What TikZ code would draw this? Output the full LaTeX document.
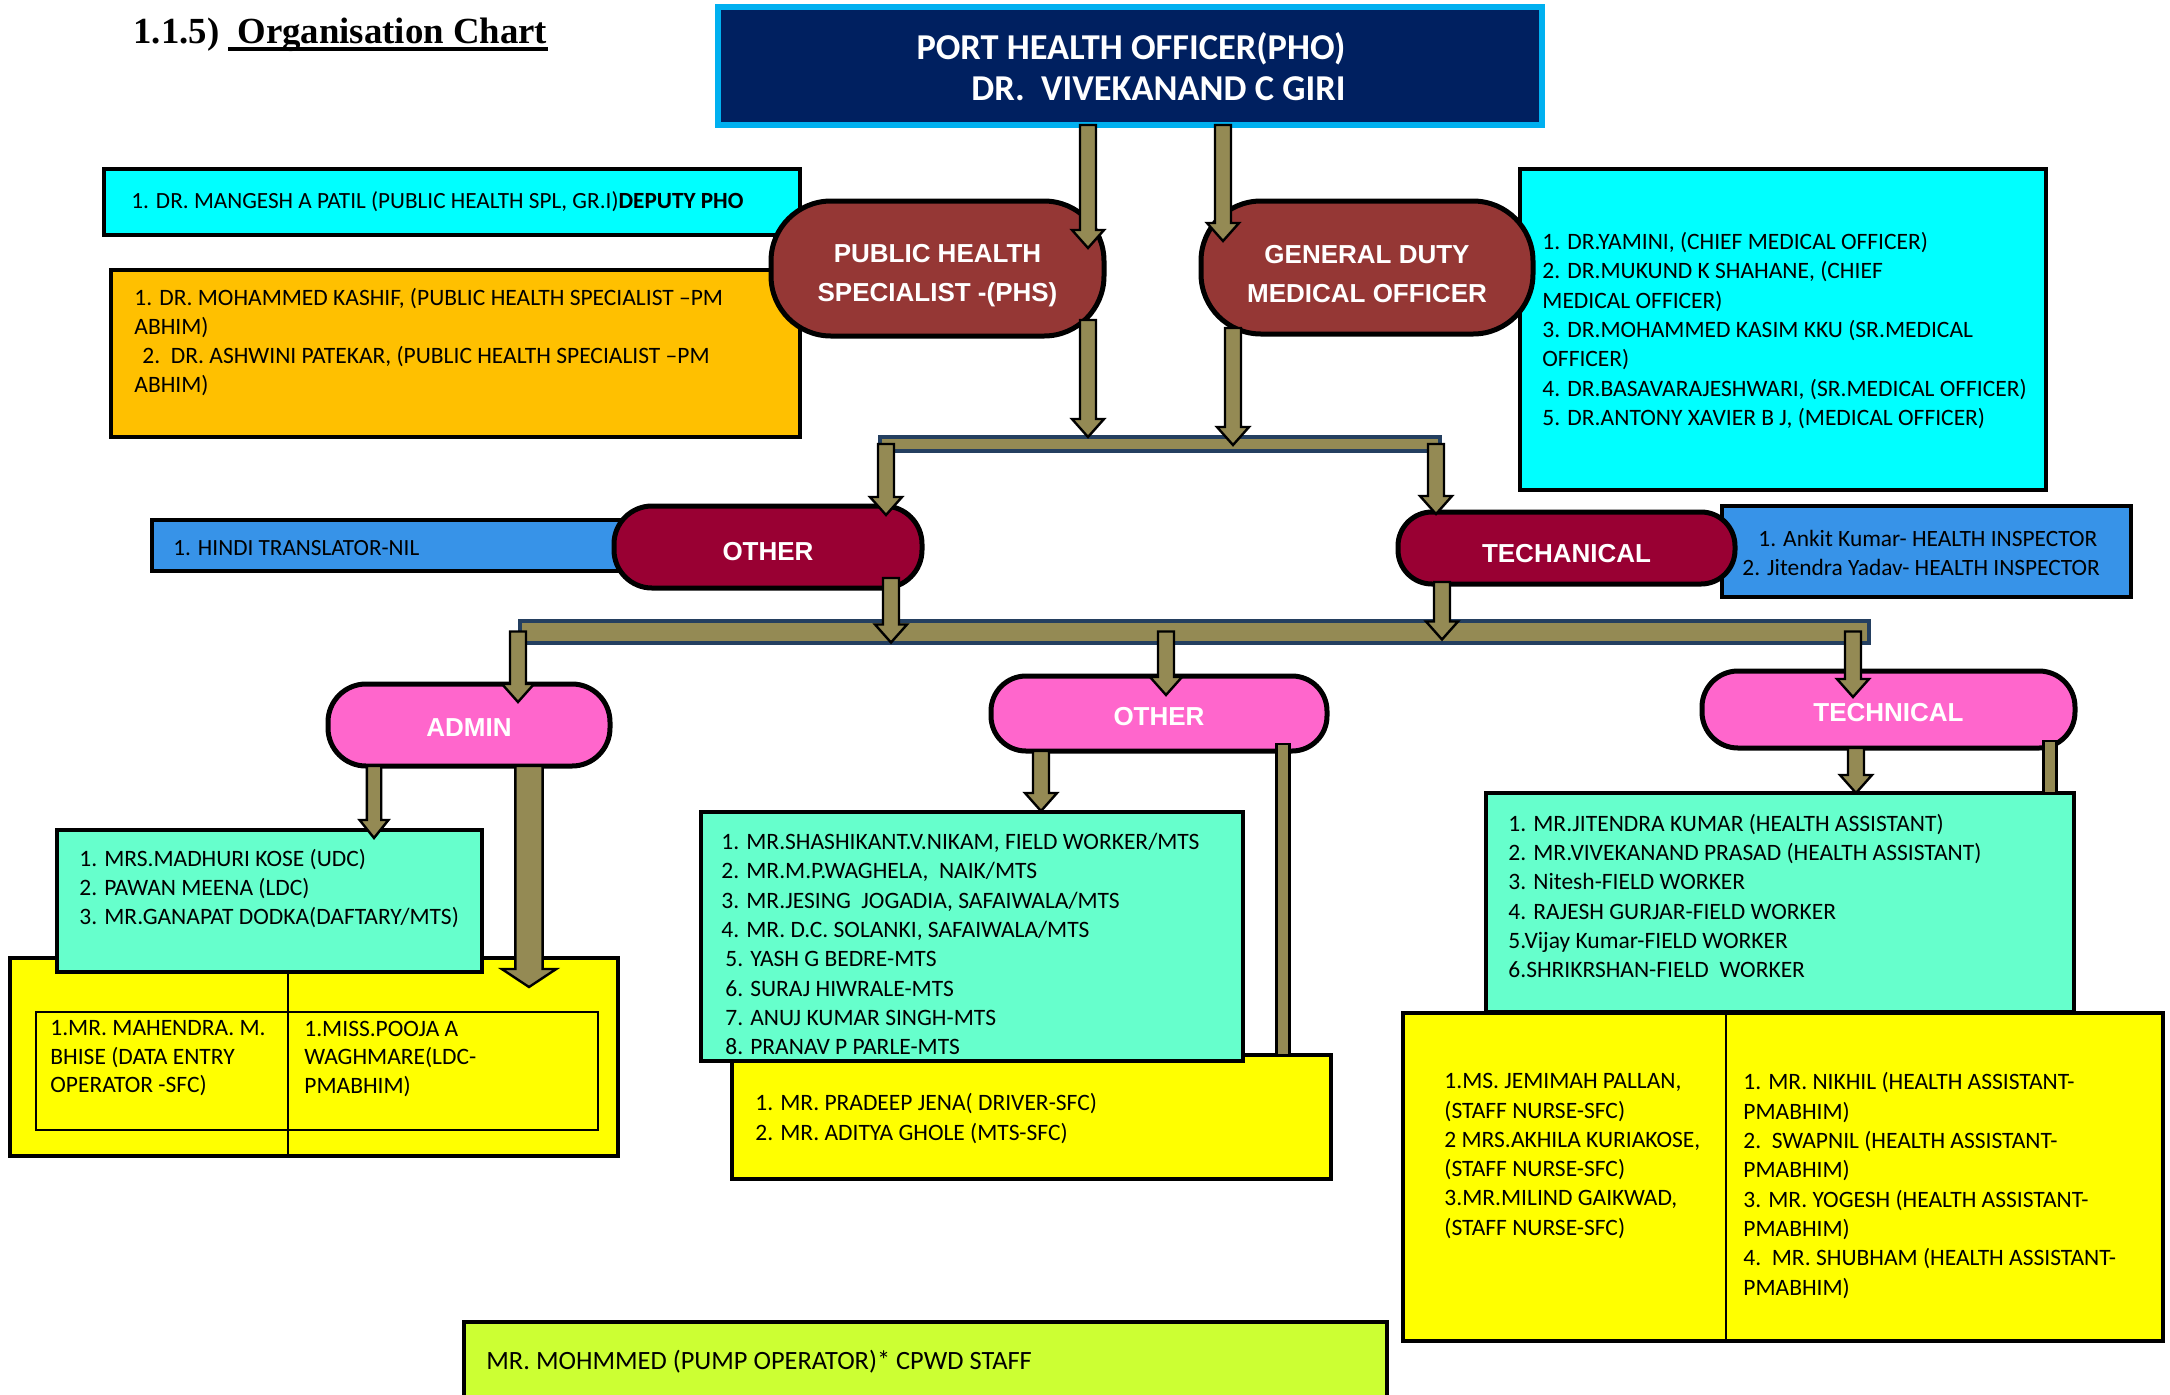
\documentclass[tikz,border=0pt]{standalone}
\usepackage{fontspec}
\setmainfont{Carlito}
\newfontfamily\hdfont{Liberation Sans}
\newfontfamily\ttlfont{Liberation Serif}
\usetikzlibrary{calc,fit}

\definecolor{phonavy}{HTML}{002060}
\definecolor{phoedge}{HTML}{00B0F0}
\definecolor{boxcyan}{HTML}{00FFFF}
\definecolor{boxorange}{HTML}{FFC000}
\definecolor{boxblue}{HTML}{3793E8}
\definecolor{boxteal}{HTML}{66FFCC}
\definecolor{boxyellow}{HTML}{FFFF00}
\definecolor{boxlime}{HTML}{CCFF33}
\definecolor{phsred}{HTML}{953735}
\definecolor{othred}{HTML}{990033}
\definecolor{grppink}{HTML}{FF66CC}
\definecolor{arrolive}{HTML}{948A54}
\definecolor{busnavy}{HTML}{243F60}

\newcommand{\bodyfont}{\fontsize{11.75}{14.65}\selectfont}
% block arrow straight down: [width factor]{start}{tip}
\newcommand{\blkarrow}[3][1]{%
  \draw[blkarrow] let \p1=#2, \p2=#3 in
    (\x1-4pt*#1,\y1) -- (\x1+4pt*#1,\y1) -- (\x1+4pt*#1,\y2-9pt) -- (\x1+8pt*#1,\y2-9pt)
    -- (\x1,\y2) -- (\x1-8pt*#1,\y2-9pt) -- (\x1-4pt*#1,\y2-9pt) -- cycle;}
% plain stub, no head
\newcommand{\blkstub}[2]{%
  \draw[blkarrow] let \p1=#1, \p2=#2 in (\x1-3.3pt,\y1) rectangle (\x1+3.3pt,\y2);}

\begin{document}
\begin{tikzpicture}[x=0.5pt,y=0.5pt,yscale=-1,
  chartbox/.style={draw=black, line width=2.2pt, inner sep=0pt, outer sep=0pt},
  hdr/.style={draw=black, line width=2.5pt, rounded corners=#1, inner sep=0pt, outer sep=0pt,
    text=white, align=center, font=\hdfont\bfseries\fontsize{13}{19.5}\selectfont},
  hdrlift/.style={execute at begin node={\rule{0pt}{#1}}},
  txt/.style={anchor=west, inner sep=0pt, align=left, font=\bodyfont},
  ttl/.style={anchor=base west, inner sep=0pt, font=\ttlfont\bfseries\fontsize{18.4}{20}\selectfont},
  busbar/.style={fill=arrolive, draw=busnavy, line width=2pt},
  blkarrow/.style={fill=arrolive, draw=black, line width=1.2pt, line join=miter}]
\useasboundingbox (0,0) rectangle (2170,1394);

% Title
\node[ttl] (ttlnum) at (133,43) {1.1.5)};
\node[ttl] (ttlname) at (237,43) {Organisation Chart};
\draw[line width=1.6pt] ($(ttlname.base west)+(-9,6)$) -- ($(ttlname.base east)+(0,6)$);

% Port health officer
\node[chartbox, draw=phoedge, line width=2.8pt, fill=phonavy, fit={(718,7) (1542,125)}] (pho) {};
\node[text=white, align=right, inner sep=0pt, font=\bfseries\fontsize{18.2}{20.5}\selectfont] (photxt)
  at (1131,67) {PORT HEALTH OFFICER(PHO)\\DR.\ \ VIVEKANAND C GIRI};

% side lists, top level
\node[chartbox, fill=boxcyan, fit={(104,169) (800,235)}] (depbox) {};
\node[txt, font=\fontsize{11.6}{14}\selectfont] (deptxt) at (131,202)
  {1. DR. MANGESH A PATIL (PUBLIC HEALTH SPL, GR.I)\textbf{DEPUTY PHO}};
\node[chartbox, fill=boxorange, fit={(111,270) (800,437)}] (phsbox) {};
\node[txt] (phstxt) at (134,342)
  {1. DR. MOHAMMED KASHIF, (PUBLIC HEALTH SPECIALIST –PM\\ABHIM)\\
   \hspace*{4pt}2.\ \ DR. ASHWINI PATEKAR, (PUBLIC HEALTH SPECIALIST –PM\\ABHIM)};
\node[chartbox, fill=boxcyan, fit={(1520,169) (2046,490)}] (gdmobox) {};
\node[txt] (gdmotxt) at (1542,330.5)
  {1. DR.YAMINI, (CHIEF MEDICAL OFFICER)\\2. DR.MUKUND K SHAHANE, (CHIEF\\MEDICAL OFFICER)\\
   3. DR.MOHAMMED KASIM KKU (SR.MEDICAL\\OFFICER)\\4. DR.BASAVARAJESHWARI, (SR.MEDICAL OFFICER)\\
   5. DR.ANTONY XAVIER B J, (MEDICAL OFFICER)};
\node[chartbox, fill=boxblue, fit={(152,520) (700,571)}] (hindibox) {};
\node[txt, font=\fontsize{11.6}{14}\selectfont] (hinditxt) at (173,548) {1. HINDI TRANSLATOR-NIL};
\node[chartbox, fill=boxblue, fit={(1722,506) (2131,597)}] (inspbox) {};
\node[txt, font=\fontsize{11.7}{14.5}\selectfont] (insptxt) at (1742,552.5)
  {\hspace*{8pt}1. Ankit Kumar- HEALTH INSPECTOR\\2. Jitendra Yadav- HEALTH INSPECTOR};

% first level heads
\node[hdr=30pt, fill=phsred, minimum width=166.5pt, minimum height=67.5pt] (phs)
  at (937.5,268.5) {\rule{0pt}{16.5pt}PUBLIC HEALTH\\SPECIALIST -(PHS)};
\node[hdr=30pt, fill=phsred, minimum width=166pt, minimum height=66.5pt] (gdmo)
  at (1367,267.5) {\rule{0pt}{16pt}GENERAL DUTY\\MEDICAL OFFICER};
\node[hdr=19pt, hdrlift=13.5pt, fill=othred, minimum width=154pt, minimum height=41pt] (oth1)
  at (768,547) {OTHER};
\node[hdr=17pt, hdrlift=14.5pt, fill=othred, minimum width=168.5pt, minimum height=36pt] (tec1)
  at (1566.5,548) {TECHANICAL};

% bus bars
\coordinate (bus1a) at (880,444);
\coordinate (bus1b) at (1440,444);
\coordinate (bus2a) at (520,631.5);
\coordinate (bus2b) at (1869,631.5);
\draw[busbar] ($(bus1a)+(0,-7)$) rectangle ($(bus1b)+(0,7)$);
\draw[busbar] ($(bus2a)+(0,-11)$) rectangle ($(bus2b)+(0,11)$);

% second level heads
\node[hdr=19pt, hdrlift=11pt, fill=grppink, minimum width=141pt, minimum height=41pt] (adm)
  at (469,725) {ADMIN};
\node[hdr=17.5pt, hdrlift=12.5pt, fill=grppink, minimum width=168pt, minimum height=37.5pt] (oth2)
  at (1159,713.5) {OTHER};
\node[hdr=18pt, hdrlift=12.5pt, fill=grppink, minimum width=186.5pt, minimum height=38.5pt] (tec2)
  at (1888.5,709.5) {TECHNICAL};

% admin staff
\node[chartbox, fill=boxyellow, fit={(10,958) (618,1156)}] (admyel) {};
\draw[line width=0.6pt] (36,1012) rectangle (598,1130);
\draw[line width=0.6pt] (288,972) -- (288,1156);
\node[chartbox, fill=boxteal, fit={(57,830) (482,972)}] (admteal) {};
\node[txt] (admtealtxt) at (79,888.5)
  {1. MRS.MADHURI KOSE (UDC)\\2. PAWAN MEENA (LDC)\\3. MR.GANAPAT DODKA(DAFTARY/MTS)};
\node[txt, font=\fontsize{11.75}{14.25}\selectfont] (admyell) at (50,1058.5)
  {1.MR. MAHENDRA. M.\\BHISE (DATA ENTRY\\OPERATOR -SFC)};
\node[txt, font=\fontsize{11.75}{14.25}\selectfont] (admyelr) at (304,1058.5)
  {1.MISS.POOJA A\\WAGHMARE(LDC-\\PMABHIM)};

% other staff
\node[chartbox, fill=boxyellow, fit={(732,1055) (1331,1179)}] (othyel) {};
\node[txt, font=\fontsize{11.75}{15}\selectfont] (othyeltxt) at (755,1119)
  {1. MR. PRADEEP JENA( DRIVER-SFC)\\2. MR. ADITYA GHOLE (MTS-SFC)};
\node[chartbox, fill=boxteal, fit={(701,812) (1243,1061)}] (othteal) {};
\node[txt] (othtealtxt) at (721,944)
  {1. MR.SHASHIKANT.V.NIKAM, FIELD WORKER/MTS\\2. MR.M.P.WAGHELA,\ \ NAIK/MTS\\
   3. MR.JESING\ \ JOGADIA, SAFAIWALA/MTS\\4. MR. D.C. SOLANKI, SAFAIWALA/MTS\\
   \hspace*{2pt}5. YASH G BEDRE-MTS\\\hspace*{2pt}6. SURAJ HIWRALE-MTS\\
   \hspace*{2pt}7. ANUJ KUMAR SINGH-MTS\\\hspace*{2pt}8. PRANAV P PARLE-MTS};

% technical staff
\node[chartbox, fill=boxteal, fit={(1486,793) (2074,1012)}] (tecteal) {};
\node[txt] (tectealtxt) at (1508,896)
  {1. MR.JITENDRA KUMAR (HEALTH ASSISTANT)\\2. MR.VIVEKANAND PRASAD (HEALTH ASSISTANT)\\
   3. Nitesh-FIELD WORKER\\4. RAJESH GURJAR-FIELD WORKER\\5.Vijay Kumar-FIELD WORKER\\
   6.SHRIKRSHAN-FIELD\ \ WORKER};
\node[chartbox, fill=boxyellow, fit={(1403,1013) (2163,1341)}] (tecyel) {};
\draw[line width=0.6pt] (1726,1013) -- (1726,1341);
\node[txt] (tecyell) at (1444,1156)
  {1.MS. JEMIMAH PALLAN,\\(STAFF NURSE-SFC)\\2 MRS.AKHILA KURIAKOSE,\\(STAFF NURSE-SFC)\\
   3.MR.MILIND GAIKWAD,\\(STAFF NURSE-SFC)};
\node[txt] (tecyelr) at (1743,1185.5)
  {1. MR. NIKHIL (HEALTH ASSISTANT-\\PMABHIM)\\2.\ \ SWAPNIL (HEALTH ASSISTANT-\\PMABHIM)\\
   3. MR. YOGESH (HEALTH ASSISTANT-\\PMABHIM)\\4.\ \ MR. SHUBHAM (HEALTH ASSISTANT-\\PMABHIM)};

% pump operator
\node[chartbox, fill=boxlime, fit={(464,1322) (1387,1400)}] (pump) {};
\node[txt, font=\fontsize{13.2}{15}\selectfont] (pumptxt) at (486,1362)
  {MR. MOHMMED (PUMP OPERATOR)* CPWD STAFF};

% arrows
\blkarrow{($(pho.south)+(-42,0)$)}{($(phs.north)+(0,47)$)}
\blkarrow{($(pho.south)+(93,0)$)}{($(gdmo.north)+(0,40)$)}
\blkarrow{($(phs.south)+(150.5,-16)$)}{($(bus1a)+(0,-7)$)}
\blkarrow{($(gdmo.south)+(-134,-6)$)}{($(bus1a)+(0,1)$)}
\blkarrow{($(bus1a)+(6,0)$)}{($(oth1.north)+(0,9)$)}
\blkarrow{($(bus1b)+(-4,0)$)}{($(tec1.north)+(0,2)$)}
\blkarrow{($(oth1.south)+(123,-10)$)}{($(bus2a)+(0,11)$)}
\blkarrow{($(tec1.south)+(-124.5,-2)$)}{($(bus2a)+(0,8)$)}
\blkarrow{($(bus2a)+(-2,0)$)}{($(adm.north)+(0,18)$)}
\blkarrow{($(oth2.north |- bus2a)+(7,0)$)}{($(oth2.north)+(0,19)$)}
\blkarrow{($(tec2.north |- bus2a)+(-35.5,0)$)}{($(tec2.north)+(0,26)$)}
\blkarrow[0.9]{($(adm.south)+(-95,0)$)}{($(admteal.north)+(0,8)$)}
\blkarrow[1.7]{($(adm.south)+(60,0)$)}{($(admyel.north)+(0,29)$)}
\blkarrow{($(oth2.south)+(-118,0)$)}{($(othteal.north)+(0,-1)$)}
\blkstub{($(oth2.south)+(124,-7)$)}{(othyel.north)}
\blkarrow{($(tec2.south)+(-32.5,0)$)}{(tecteal.north)}
\blkstub{($(tec2.south)+(161.5,-7)$)}{(tecteal.north)}

\end{tikzpicture}
\end{document}
